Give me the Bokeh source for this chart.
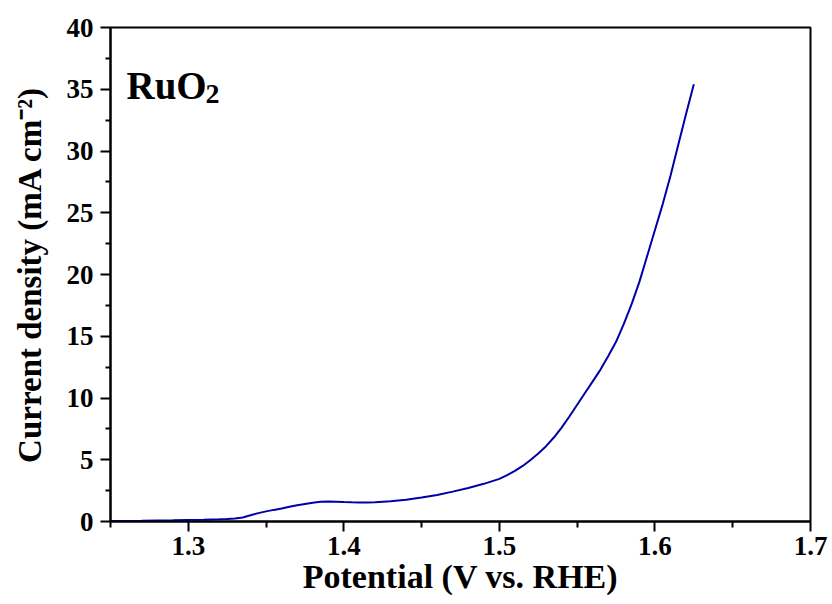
from bokeh.plotting import figure
from bokeh.models import Range1d, FixedTicker, Label
from bokeh.embed import file_html
from bokeh.resources import INLINE

# ---- data ----
potential = [1.25, 1.27, 1.29, 1.30, 1.31, 1.32, 1.325, 1.33, 1.335, 1.34,
             1.345, 1.35, 1.355, 1.36, 1.365, 1.37, 1.375, 1.38, 1.385, 1.39,
             1.395, 1.40, 1.405, 1.41, 1.415, 1.42, 1.43, 1.44, 1.45, 1.46,
             1.47, 1.48, 1.49, 1.50, 1.505, 1.51, 1.515, 1.52, 1.525, 1.53,
             1.535, 1.54, 1.545, 1.55, 1.555, 1.56, 1.565, 1.57, 1.575, 1.58,
             1.585, 1.59, 1.595, 1.60, 1.605, 1.61, 1.615, 1.62, 1.625]
current = [0.05, 0.07, 0.10, 0.12, 0.14, 0.18, 0.21, 0.25, 0.33, 0.50,
           0.68, 0.82, 0.94, 1.05, 1.20, 1.32, 1.42, 1.52, 1.60, 1.62,
           1.60, 1.57, 1.55, 1.54, 1.54, 1.56, 1.63, 1.76, 1.94, 2.15,
           2.42, 2.72, 3.05, 3.45, 3.75, 4.10, 4.50, 4.98, 5.50, 6.10,
           6.80, 7.60, 8.50, 9.45, 10.4, 11.35, 12.3, 13.4, 14.55, 16.0,
           17.6, 19.4, 21.5, 23.6, 25.7, 28.0, 30.5, 33.0, 35.4]

x_ticks = [1.3, 1.4, 1.5, 1.6, 1.7]
x_minor = [1.25, 1.35, 1.45, 1.55, 1.65]
y_ticks = [0, 5, 10, 15, 20, 25, 30, 35, 40]
y_minor = [2.5, 7.5, 12.5, 17.5, 22.5, 27.5, 32.5, 37.5]

x_title = "Potential (V vs. RHE)"
y_title = "Current density (mA cm\u207b\u00b2)"
sample_parts = ["RuO", "2"]

FONT = "Liberation Serif"
W, H = 832, 604
L, R, T, B = 110, 22, 27, 83
X0, X1, Y0, Y1 = 1.25, 1.7, 0, 40

p = figure(width=W, height=H, output_backend="svg", toolbar_location=None,
           x_range=Range1d(X0, X1), y_range=Range1d(Y0, Y1),
           min_border_left=L, min_border_right=R, min_border_top=T,
           min_border_bottom=B)
p.background_fill_color = "white"
p.border_fill_color = "white"
p.xgrid.visible = False
p.ygrid.visible = False
p.outline_line_color = "black"
p.outline_line_width = 2
p.outline_line_alpha = 1.0

p.line(potential, current, line_color="#0000A8", line_width=2)

p.xaxis.ticker = FixedTicker(ticks=x_ticks, minor_ticks=x_minor)
p.yaxis.ticker = FixedTicker(ticks=y_ticks, minor_ticks=y_minor)
for ax in (p.xaxis[0], p.yaxis[0]):
    ax.axis_line_width = 2
    ax.axis_line_color = "black"
    ax.major_tick_line_width = 2
    ax.minor_tick_line_width = 2
    ax.major_tick_out = 10
    ax.major_tick_in = 0
    ax.minor_tick_out = 6
    ax.minor_tick_in = 0
    ax.major_label_text_font = FONT
    ax.major_label_text_font_style = "bold"
    ax.major_label_text_font_size = "27px"
    ax.major_label_text_color = "black"
    ax.axis_label_text_font = FONT
    ax.axis_label_text_font_style = "bold"
    ax.axis_label_text_color = "black"
p.yaxis.minor_tick_out = 5
p.xaxis.major_label_standoff = 5
p.yaxis.major_label_standoff = 7

p.xaxis.axis_label = x_title
p.xaxis.axis_label_text_font_size = "34px"
p.xaxis.axis_label_standoff = 0
p.yaxis.axis_label = y_title
p.yaxis.axis_label_text_font_size = "33px"
p.yaxis.axis_label_standoff = 16

fw = W - L - R
fh = H - T - B
def px2x(px):
    return X0 + (px - L) / fw * (X1 - X0)
def py2y(py):
    return Y0 + (T + fh - py) / fh * (Y1 - Y0)

def lab(text, px, py, size, style="bold"):
    p.add_layout(Label(x=px2x(px), y=py2y(py), text=text, text_font=FONT,
                       text_font_style=style, text_font_size=size, text_color="black",
                       text_align="left", text_baseline="alphabetic"))

# sample label RuO2
fss = 39
lab(sample_parts[0], 126, 85, f"{fss}px")
lab(sample_parts[1], 126 + 2.0 * fss + 1, 93, "28px")

open("out.html", "w").write(file_html(p, INLINE))
